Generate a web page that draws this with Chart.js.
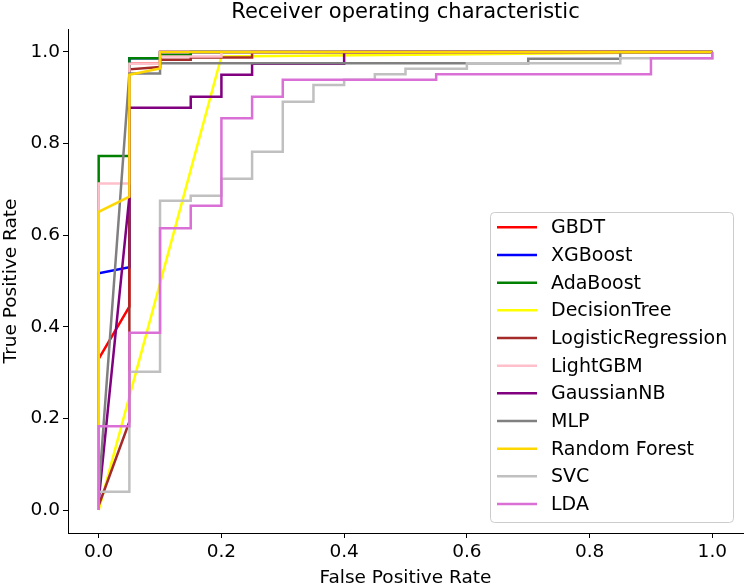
<!DOCTYPE html>
<html>
<head>
<meta charset="utf-8">
<script src="https://cdn.jsdelivr.net/npm/chart.js@4/dist/chart.umd.min.js"></script>
<style>
  html, body { margin: 0; padding: 0; background: #fff; }
  #wrap { width: 744px; height: 586px; }
</style>
</head>
<body>
<div id="wrap"><canvas id="roc"></canvas></div>
<script>
// --- ROC data ---
const modelNames = ['GBDT', 'XGBoost', 'AdaBoost', 'DecisionTree', 'LogisticRegression', 'LightGBM', 'GaussianNB', 'MLP', 'Random Forest', 'SVC', 'LDA'];
const modelColors = ['#ff0000', '#0000ff', '#008000', '#ffff00', '#a52a2a', '#ffc0cb', '#800080', '#808080', '#ffd700', '#c0c0c0', '#da70d6'];

const gbdtFpr = [0, 0, 0.05, 0.05, 0.1, 0.1, 1];
const gbdtTpr = [0, 0.33, 0.444, 0.974, 0.974, 1, 1];

const xgbFpr = [0, 0, 0.05, 0.05, 0.1, 0.1, 1];
const xgbTpr = [0, 0.517, 0.53, 0.986, 0.986, 1, 1];

const adaFpr = [0, 0, 0.05, 0.05, 0.1, 0.1, 0.15, 0.15, 1];
const adaTpr = [0, 0.773, 0.773, 0.986, 0.986, 0.993, 0.993, 1, 1];

const dtFpr = [0, 0.2, 1];
const dtTpr = [0, 0.99, 1];

const lrFpr = [0, 0, 0.05, 0.05, 0.1, 0.1, 0.15, 0.15, 0.25, 0.25, 1];
const lrTpr = [0, 0.01, 0.193, 0.962, 0.967, 0.983, 0.983, 0.988, 0.988, 1, 1];

const lgbFpr = [0, 0, 0.05, 0.05, 0.1, 0.1, 0.2, 0.2, 1];
const lgbTpr = [0, 0.713, 0.713, 0.974, 0.974, 0.99, 0.99, 1, 1];

const gnbFpr = [0, 0, 0.05, 0.05, 0.15, 0.15, 0.2, 0.2, 0.25, 0.25, 0.4, 0.4, 1];
const gnbTpr = [0, 0.02, 0.684, 0.878, 0.878, 0.902, 0.902, 0.95, 0.95, 0.974, 0.974, 1, 1];

const mlpFpr = [0, 0, 0.05, 0.1, 0.1, 0.7, 0.7, 0.85, 0.85, 1];
const mlpTpr = [0, 0.04, 0.953, 0.953, 0.975, 0.975, 0.985, 0.985, 1, 1];

const rfFpr = [0, 0, 0.05, 0.05, 0.1, 0.1, 1];
const rfTpr = [0, 0.651, 0.684, 0.95, 0.964, 1, 1];

const svcFpr = [0, 0, 0.05, 0.05, 0.1, 0.1, 0.15, 0.15, 0.2, 0.2, 0.25, 0.25, 0.3, 0.3, 0.35, 0.35, 0.4, 0.4, 0.45, 0.45, 0.5, 0.5, 0.6, 0.6, 0.85, 0.85, 1, 1];
const svcTpr = [0, 0.04, 0.04, 0.302, 0.302, 0.675, 0.675, 0.686, 0.686, 0.723, 0.723, 0.782, 0.782, 0.891, 0.891, 0.928, 0.928, 0.939, 0.939, 0.951, 0.951, 0.963, 0.963, 0.975, 0.975, 0.986, 0.986, 1];

const ldaFpr = [0, 0, 0.05, 0.05, 0.1, 0.1, 0.15, 0.15, 0.2, 0.2, 0.25, 0.25, 0.3, 0.3, 0.55, 0.55, 0.9, 0.9, 1, 1];
const ldaTpr = [0, 0.183, 0.183, 0.387, 0.387, 0.615, 0.615, 0.664, 0.664, 0.855, 0.855, 0.902, 0.902, 0.939, 0.939, 0.951, 0.951, 0.986, 0.986, 1];

const xTicks = [0, 0.2, 0.4, 0.6, 0.8, 1.0];
const yTicks = [0, 0.2, 0.4, 0.6, 0.8, 1.0];

const curves = [
    [gbdtFpr, gbdtTpr], [xgbFpr, xgbTpr], [adaFpr, adaTpr], [dtFpr, dtTpr],
    [lrFpr, lrTpr], [lgbFpr, lgbTpr], [gnbFpr, gnbTpr], [mlpFpr, mlpTpr],
    [rfFpr, rfTpr], [svcFpr, svcTpr], [ldaFpr, ldaTpr]
];

const FONT = '"DejaVu Sans", sans-serif';
const TITLE = 'Receiver operating characteristic';

const datasets = curves.map(([fpr, tpr], i) => ({
    label: modelNames[i],
    data: fpr.map((x, k) => ({ x: x, y: tpr[k] })),
    borderColor: modelColors[i],
    backgroundColor: modelColors[i],
    borderWidth: 2.5,
    pointRadius: 0,
    showLine: true,
    tension: 0,
    // later series sit on top, like matplotlib
    order: curves.length - i
}));

// title centred over the axes, not the whole canvas
const axesTitle = {
    id: 'axesTitle',
    afterDraw(chart) {
        const { ctx, chartArea } = chart;
        ctx.save();
        ctx.font = '21px ' + FONT;
        ctx.fillStyle = '#000';
        ctx.textAlign = 'center';
        ctx.textBaseline = 'middle';
        ctx.fillText(TITLE, (chartArea.left + chartArea.right) / 2, 13);
        ctx.restore();
    }
};

// --- legend box in the lower right, matplotlib style ---
const boxLegend = {
    id: 'boxLegend',
    afterDatasetsDraw(chart) {
        const ctx = chart.ctx;
        const x0 = 490, y0 = 212, w = 243, h = 310;
        ctx.save();
        ctx.beginPath();
        ctx.roundRect(x0 + 0.5, y0 + 0.5, w, h, 4);
        ctx.fillStyle = 'rgba(255,255,255,0.8)';
        ctx.fill();
        ctx.strokeStyle = '#cccccc';
        ctx.lineWidth = 1;
        ctx.stroke();
        ctx.font = '19px ' + FONT;
        ctx.textBaseline = 'middle';
        modelNames.forEach((name, i) => {
            const y = 227.3 + i * 27.67;
            ctx.beginPath();
            ctx.moveTo(497, y);
            ctx.lineTo(537, y);
            ctx.strokeStyle = modelColors[i];
            ctx.lineWidth = 2.5;
            ctx.stroke();
            ctx.fillStyle = '#000';
            ctx.fillText(name, 551, y + 1);
        });
        ctx.restore();
    }
};

const tickOpts = {
    color: '#000',
    font: { family: FONT, size: 18.5 },
    padding: 3,
    callback: v => Number(v).toFixed(1)
};

new Chart(document.getElementById('roc'), {
    type: 'scatter',
    data: { datasets: datasets },
    options: {
        responsive: true,
        maintainAspectRatio: false,
        animation: false,
        layout: { padding: { left: 0, right: 1, top: 29, bottom: 0 } },
        plugins: {
            legend: { display: false },
            tooltip: { enabled: false },
            title: { display: false }
        },
        scales: {
            x: {
                type: 'linear',
                min: -0.05,
                max: 1.05,
                afterBuildTicks: s => { s.ticks = xTicks.map(v => ({ value: v })); },
                afterFit: s => { s.height = 53; },
                ticks: tickOpts,
                grid: { drawOnChartArea: false, drawTicks: true, tickLength: 5, color: '#000' },
                border: { display: true, color: '#000', width: 1 },
                title: {
                    display: true,
                    text: 'False Positive Rate',
                    color: '#000',
                    font: { family: FONT, size: 18.5 },
                    padding: { top: 0, bottom: -3 }
                }
            },
            y: {
                type: 'linear',
                min: -0.05,
                max: 1.05,
                afterBuildTicks: s => { s.ticks = yTicks.map(v => ({ value: v })); },
                afterFit: s => { s.width = 68; },
                ticks: tickOpts,
                grid: { drawOnChartArea: false, drawTicks: true, tickLength: 5, color: '#000' },
                border: { display: true, color: '#000', width: 1 },
                title: {
                    display: true,
                    text: 'True Positive Rate',
                    color: '#000',
                    font: { family: FONT, size: 18.5 },
                    padding: { top: 0, bottom: 0 }
                }
            }
        }
    },
    plugins: [axesTitle, boxLegend]
});
</script>
</body>
</html>
